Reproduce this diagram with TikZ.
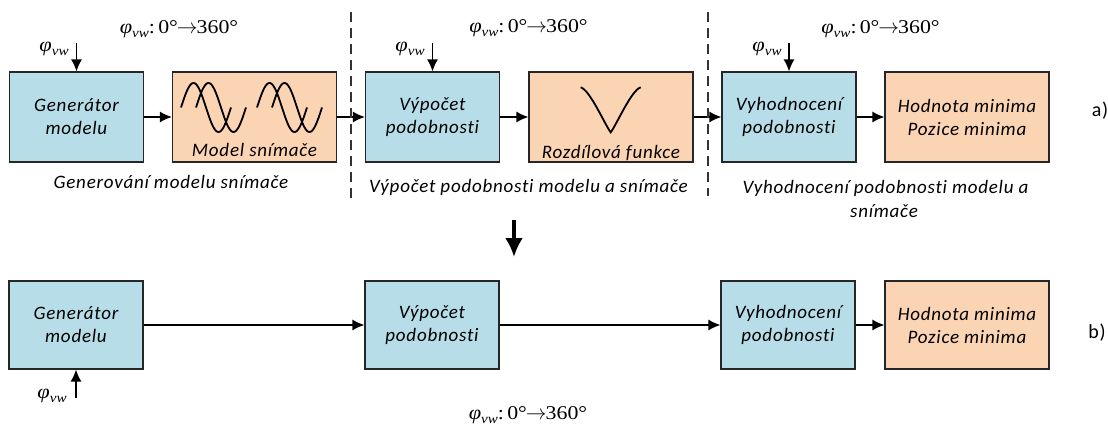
\documentclass[tikz,border=0pt]{standalone}
\usepackage{fontspec}
\setmainfont{Carlito}
\newfontfamily\calfont[LetterSpace=4,Ligatures={NoCommon}]{Carlito}
\newfontfamily\timesfont[FakeStretch=1.12]{Liberation Serif}
\usetikzlibrary{arrows.meta}
\definecolor{cBlue}{HTML}{B7DDE8}
\definecolor{cOrange}{HTML}{FBD4B4}
\newcommand{\phivw}{{\timesfont\itshape\fontsize{20}{22}\selectfont φ\raisebox{-0.2em}{\fontsize{13.5}{14}\selectfont vw}}}
\newcommand{\phirange}{\phivw{\timesfont\fontsize{19.5}{21}\selectfont:\,0°\kern-1pt$\rightarrow$\kern-1pt360°}}
\begin{document}
\begin{tikzpicture}[x=1pt,y=-1pt,
  box/.style={draw=black!85, line width=1.2pt, inner sep=0pt, align=center,
    font=\calfont\itshape\fontsize{19}{23}\selectfont},
  bbox/.style={box, fill=cBlue, minimum width=134pt},
  obox/.style={box, fill=cOrange, minimum width=164pt},
  toprow/.style={minimum height=90pt},
  botrow/.style={minimum height=88pt},
  arr/.style={-{Latex[length=12pt,width=11pt]}, line width=1.3pt},
  bigarr/.style={-{Latex[length=19pt,width=18pt]}, line width=3.5pt},
  sep/.style={dash pattern=on 10pt off 6pt, line width=1.3pt, draw=black!80},
  curve/.style={line width=1.8pt},
  caption/.style={anchor=base, font=\calfont\itshape\fontsize{19}{23}\selectfont},
  inlabel/.style={anchor=base, font=\calfont\itshape\fontsize{19}{23}\selectfont},
  tag/.style={font=\calfont\fontsize{20}{24}\selectfont},
  phl/.style={anchor=base, inner sep=0pt}
]
\useasboundingbox (0,0) rectangle (1108,425);

% ---------- row a ----------
\node[bbox,toprow] (gen) at (76.5,117) {Generátor\\modelu};
\node[obox,toprow] (model) at (254.5,117) {};
\node[bbox,toprow] (calc) at (432.5,117) {Výpočet\\podobnosti};
\node[obox,toprow] (rozd) at (611,117) {};
\node[bbox,toprow] (eval) at (789,117) {Vyhodnocení\\podobnosti};
\node[obox,toprow] (hod) at (967,117) {Hodnota minima\\Pozice minima};

\node[inlabel] (modeltxt) at (254.5,157) {Model snímače};
\node[inlabel] (rozdtxt) at (611,158) {Rozdílová funkce};

% sine waves
\foreach \s in {181,196,257,272}{
  \draw[curve] plot[domain=0:360, samples=60, smooth] ({\s+\x/360*50},{107.5-24.5*sin(\x)});
}
% difference function
\draw[curve] (580.7,87.3) .. controls (590,90) and (605,125) .. (610.7,132.3)
  .. controls (616.4,125) and (631.4,90) .. (640.7,87.3);

\draw[arr] (gen.east) -- (model.west);
\draw[arr] (model.east) -- (calc.west);
\draw[arr] (calc.east) -- (rozd.west);
\draw[arr] (rozd.east) -- (eval.west);
\draw[arr] (eval.east) -- (hod.west);

% phi inputs
\coordinate (pa) at (76.5,43);
\coordinate (pb) at (432.5,43);
\coordinate (pc) at (789,43);
\draw[arr] (pa) -- (gen.north);
\draw[arr] (pb) -- (calc.north);
\draw[arr] (pc) -- (eval.north);
\node[phl] (la) at (54,52) {\phivw};
\node[phl] (lb) at (410,52) {\phivw};
\node[phl] (lc) at (767,52) {\phivw};

\node[phl] (ra) at (179,34) {\phirange};
\node[phl] (rb) at (528.5,33) {\phirange};
\node[phl] (rc) at (880.5,33.5) {\phirange};

% separators
\coordinate (d1t) at (351,12);
\coordinate (d1b) at (351,200);
\coordinate (d2t) at (708,12);
\coordinate (d2b) at (708,196);
\draw[sep] (d1t) -- (d1b);
\draw[sep] (d2t) -- (d2b);

% captions
\node[caption] (cap1) at (171,188) {Generování modelu snímače};
\node[caption] (cap2) at (528.5,192) {Výpočet podobnosti modelu a snímače};
\node[caption] (cap3a) at (885.5,193) {Vyhodnocení podobnosti modelu a};
\node[caption] (cap3b) at (884,217) {snímače};

\node[tag] (taga) at (1100,111) {a)};

% big arrow
\coordinate (ba) at (514,220);
\coordinate (bb) at (514,257);
\draw[bigarr] (ba) -- (bb);

% ---------- row b ----------
\node[bbox,botrow] (gen2) at (76,325) {Generátor\\modelu};
\node[bbox,botrow] (calc2) at (432,325) {Výpočet\\podobnosti};
\node[bbox,botrow] (eval2) at (788,325) {Vyhodnocení\\podobnosti};
\node[obox,botrow] (hod2) at (967,325) {Hodnota minima\\Pozice minima};

\draw[arr] (gen2.east) -- (calc2.west);
\draw[arr] (calc2.east) -- (eval2.west);
\draw[arr] (eval2.east) -- (hod2.west);

\coordinate (pd) at (76,398);
\draw[arr] (pd) -- (gen2.south);
\node[phl] (ld) at (52,398) {\phivw};
\node[phl] (rd) at (528,419) {\phirange};

\node[tag] (tagb) at (1097,333) {b)};
\end{tikzpicture}
\end{document}
